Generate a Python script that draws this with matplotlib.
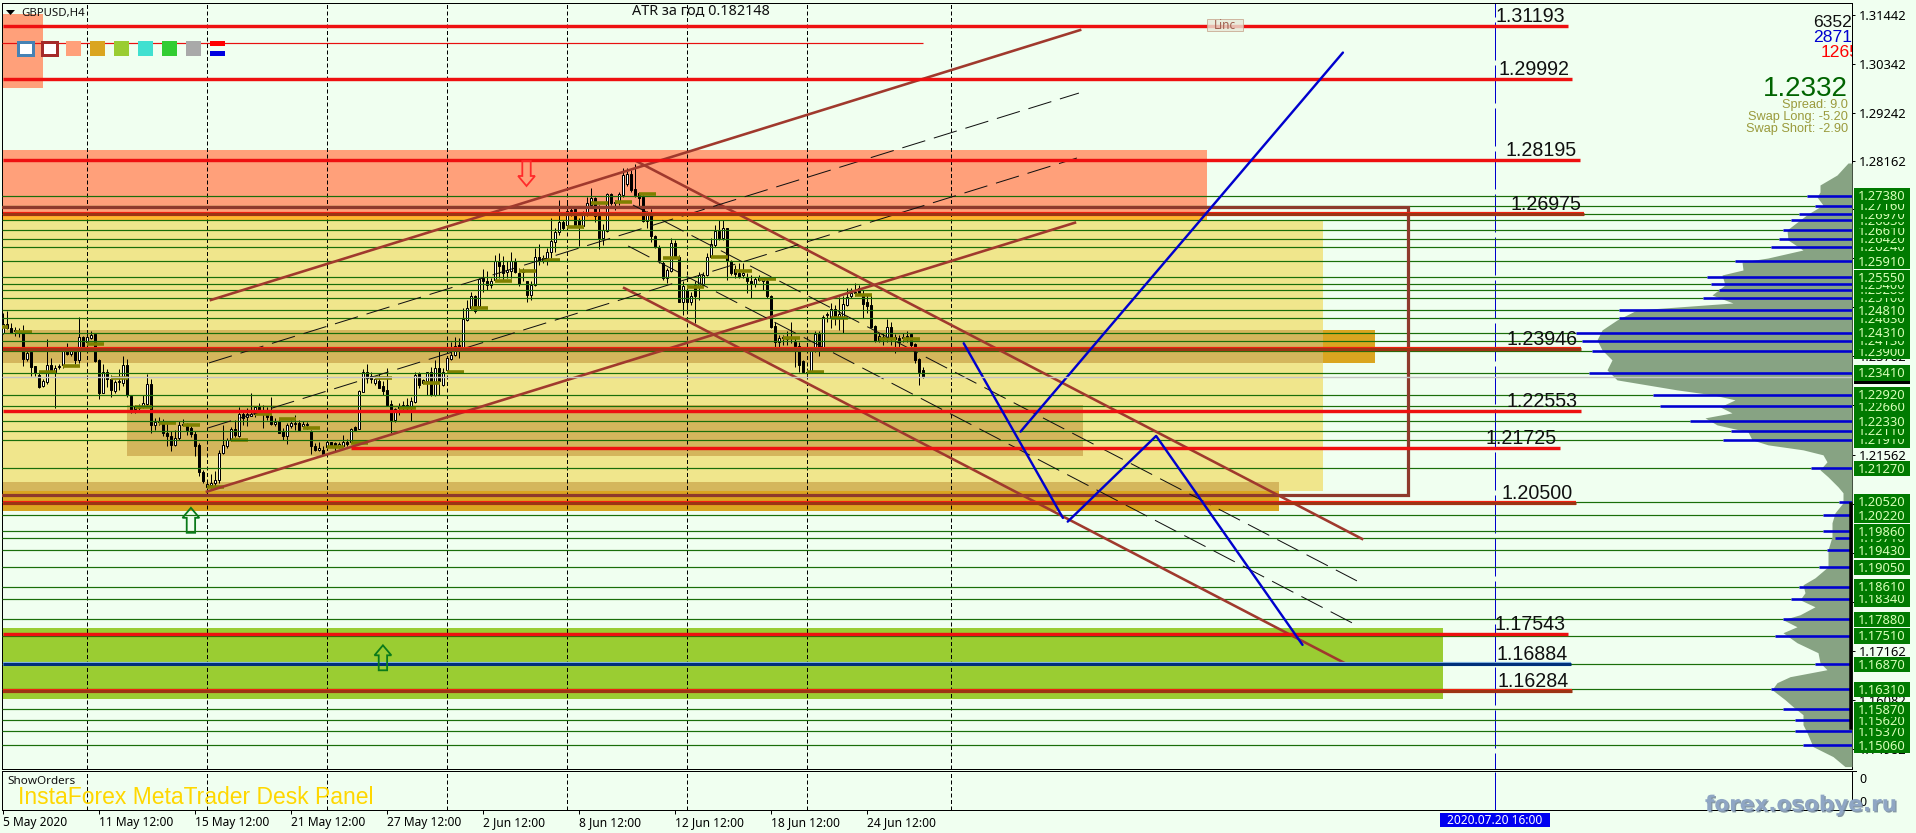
import matplotlib
matplotlib.use("Agg")
import matplotlib.pyplot as plt
import matplotlib.patheffects as pe
from matplotlib.patches import Rectangle, Polygon
import numpy as np

# candles, GBPUSD H4, in price points (1e-4)
opens = [12430,12451,12441,12434,12433,12430,12373,12387,12357,12337,
         12312,12321,12358,12342,12354,12359,12390,12384,12390,12369,
         12422,12411,12419,12428,12370,12297,12342,12327,12301,12320,
         12319,12359,12290,12259,12263,12266,12271,12316,12224,12231,
         12234,12207,12200,12180,12194,12224,12222,12217,12204,12180,
         12118,12086,12090,12094,12101,12162,12177,12192,12215,12200,
         12249,12242,12245,12249,12264,12255,12258,12245,12227,12232,
         12210,12200,12222,12227,12228,12222,12224,12210,12177,12168,
         12168,12174,12185,12183,12177,12177,12187,12187,12219,12215,
         12299,12344,12334,12318,12322,12312,12303,12271,12236,12262,
         12265,12265,12267,12275,12340,12319,12322,12342,12292,12351,
         12314,12348,12373,12381,12404,12395,12460,12486,12514,12490,
         12553,12547,12538,12550,12593,12583,12567,12570,12591,12566,
         12568,12546,12516,12538,12600,12594,12598,12613,12635,12656,
         12679,12673,12703,12708,12684,12670,12695,12718,12733,12693,
         12643,12660,12742,12721,12725,12741,12764,12787,12753,12744,
         12736,12682,12694,12648,12624,12587,12553,12570,12632,12602,
         12501,12527,12499,12538,12536,12538,12561,12602,12628,12660,
         12643,12665,12591,12573,12564,12561,12555,12548,12540,12549,
         12548,12548,12514,12446,12411,12419,12417,12419,12411,12402,
         12368,12340,12344,12389,12428,12399,12470,12466,12484,12467,
         12467,12493,12514,12520,12531,12514,12499,12493,12446,12415,
         12416,12419,12443,12416,12419,12419,12424,12428,12406,12372,12348]
highs = [12475,12480,12452,12443,12441,12448,12389,12389,12357,12345,
         12327,12416,12374,12359,12361,12392,12407,12398,12394,12466,
         12424,12430,12436,12430,12372,12361,12349,12336,12325,12350,
         12378,12372,12292,12269,12271,12292,12339,12327,12239,12242,
         12237,12228,12210,12212,12232,12237,12228,12221,12210,12183,
         12124,12097,12115,12122,12168,12224,12195,12220,12236,12265,
         12258,12262,12297,12267,12274,12269,12265,12288,12239,12239,
         12217,12228,12236,12247,12236,12232,12230,12212,12183,12185,
         12176,12187,12187,12185,12187,12202,12192,12217,12222,12303,
         12349,12361,12344,12334,12340,12322,12351,12280,12262,12273,
         12277,12284,12286,12342,12344,12327,12344,12355,12369,12389,
         12351,12378,12411,12422,12419,12486,12505,12523,12516,12553,
         12573,12570,12553,12605,12609,12603,12591,12613,12598,12576,
         12576,12548,12546,12620,12629,12605,12620,12688,12665,12729,
         12684,12729,12714,12710,12688,12703,12736,12755,12736,12718,
         12676,12745,12745,12729,12747,12800,12800,12795,12809,12747,
         12740,12703,12708,12650,12628,12591,12576,12643,12639,12605,
         12546,12538,12523,12546,12568,12568,12609,12643,12673,12684,
         12684,12667,12594,12583,12587,12587,12564,12561,12557,12561,
         12557,12553,12516,12456,12426,12426,12434,12456,12419,12411,
         12370,12351,12393,12434,12434,12471,12478,12497,12493,12512,
         12514,12531,12531,12542,12538,12527,12516,12516,12449,12430,
         12431,12461,12454,12428,12426,12430,12434,12431,12409,12374,12354]
lows = [12428,12439,12431,12424,12422,12357,12368,12333,12333,12308,
        12310,12316,12340,12263,12350,12351,12381,12378,12361,12363,
        12396,12407,12416,12366,12282,12295,12310,12286,12297,12303,
        12312,12288,12250,12250,12258,12262,12266,12207,12213,12224,
        12200,12178,12165,12176,12191,12221,12202,12198,12155,12110,
        12095,12073,12083,12086,12095,12159,12172,12189,12198,12198,
        12224,12222,12245,12243,12252,12217,12236,12224,12222,12206,
        12191,12182,12217,12213,12210,12218,12215,12159,12165,12165,
        12157,12174,12174,12165,12172,12174,12177,12183,12212,12215,
        12298,12319,12319,12314,12307,12292,12267,12206,12230,12247,
        12258,12254,12233,12273,12308,12316,12292,12289,12289,12292,
        12312,12344,12369,12378,12374,12393,12458,12482,12476,12488,
        12523,12527,12531,12546,12553,12548,12553,12553,12566,12535,
        12546,12499,12505,12536,12583,12587,12582,12598,12613,12650,
        12662,12669,12692,12669,12626,12667,12692,12714,12680,12618,
        12628,12658,12718,12706,12718,12736,12760,12747,12736,12714,
        12680,12667,12635,12620,12587,12550,12543,12568,12598,12501,
        12471,12482,12493,12452,12505,12534,12558,12598,12624,12639,
        12639,12549,12561,12553,12553,12553,12520,12508,12534,12546,
        12527,12508,12441,12400,12400,12404,12404,12408,12355,12344,
        12340,12337,12342,12387,12378,12396,12456,12441,12449,12437,
        12430,12490,12508,12514,12516,12464,12475,12441,12411,12411,
        12404,12411,12404,12385,12399,12411,12411,12400,12364,12313,12329]
closes = [12451,12441,12431,12437,12436,12372,12385,12355,12340,12310,
          12323,12358,12345,12353,12357,12390,12384,12390,12369,12421,
          12398,12421,12426,12368,12297,12342,12328,12303,12321,12323,
          12359,12292,12258,12266,12267,12273,12316,12224,12231,12234,
          12206,12200,12180,12194,12224,12227,12213,12204,12178,12118,
          12099,12092,12095,12101,12162,12179,12191,12215,12202,12249,
          12240,12249,12249,12264,12257,12258,12242,12227,12231,12207,
          12200,12224,12228,12228,12213,12227,12227,12177,12168,12172,
          12159,12185,12176,12176,12182,12187,12182,12215,12213,12301,
          12344,12329,12327,12327,12308,12301,12269,12236,12259,12267,
          12269,12269,12277,12337,12314,12324,12342,12292,12351,12322,
          12344,12374,12381,12402,12395,12462,12486,12514,12479,12552,
          12546,12538,12547,12593,12581,12566,12572,12591,12568,12541,
          12572,12516,12538,12600,12593,12598,12613,12637,12656,12679,
          12665,12703,12706,12673,12670,12695,12721,12733,12693,12643,
          12662,12742,12721,12725,12742,12785,12787,12751,12740,12733,
          12682,12694,12647,12624,12594,12553,12572,12632,12602,12501,
          12536,12499,12514,12514,12561,12561,12602,12629,12660,12643,
          12665,12591,12564,12563,12557,12564,12546,12540,12551,12553,
          12551,12514,12443,12411,12419,12422,12420,12422,12402,12359,
          12342,12344,12389,12428,12396,12467,12473,12484,12466,12473,
          12496,12511,12521,12523,12520,12496,12491,12445,12413,12424,
          12421,12443,12421,12422,12411,12422,12420,12404,12370,12344,12331]

# daily pivot marks (olive dashes)
pivot_bars = [-1,5,11,17,23,29,35,41,47,53,59,65,71,77,83,89,95,101,107,113,119,125,
              131,137,143,149,155,161,167,173,179,185,191,197,203,209,215,221,227]
pivot_prices = [1.24446,1.24334,1.23431,1.23572,1.24065,1.23303,1.22646,1.22287,1.22242,
                1.20859,1.21906,1.22489,1.22377,1.22175,1.21756,1.21846,1.23296,1.22623,
                1.23191,1.23431,1.24866,1.25471,1.25696,1.25949,1.26682,1.27220,1.27249,
                1.27422,1.25987,1.25337,1.26009,1.25696,1.25516,1.24200,1.23438,1.24648,
                1.25157,1.24171,1.24171]

# volume levels: price labels and blue bars on the right
level_prices = [1.27380,1.27160,1.26970,1.26830,1.26610,1.26420,1.26240,1.25910,1.25550,1.25400,
                1.25280,1.25100,1.24810,1.24630,1.24310,1.24130,1.23900,1.23410,1.22920,1.22660,
                1.22330,1.22110,1.21910,1.21270,1.20520,1.20220,1.19860,1.19710,1.19430,1.19050,
                1.18610,1.18340,1.17880,1.17510,1.16870,1.16310,1.15870,1.15620,1.15370,1.15060]
level_volumes = [45,37,53,61,69,73,81,117,145,141,133,149,233,233,276,270,260,263,199,192,
                 162,121,129,41,13,29,29,17,25,33,53,61,69,77,37,81,69,57,57,49]

# volume profile outline
profile_prices = [1.28117,1.27848,1.27624,1.27467,1.27355,1.27175,1.26973,1.26839,1.26615,1.26391,
                  1.26166,1.25987,1.25897,1.25718,1.25606,1.25382,1.25157,1.24978,1.24821,1.24597,
                  1.24373,1.24149,1.23925,1.23701,1.23477,1.23253,1.23029,1.22917,1.22805,1.22648,
                  1.22513,1.22401,1.22244,1.22087,1.21908,1.21796,1.21684,1.21572,1.21415,1.21236,
                  1.21079,1.20855,1.20721,1.20496,1.20272,1.20048,1.19734,1.19442,1.19061,1.18814,
                  1.18657,1.18478,1.18321,1.18164,1.17985,1.17873,1.17716,1.17582,1.17358,1.17134,
                  1.16910,1.16753,1.16596,1.16462,1.16305,1.16081,1.15924,1.15745,1.15521,1.15342,
                  1.15028,1.14804,1.14580]
profile_volumes = [4,15,32,32,35,29,44,52,65,64,49,84,110,109,130,127,140,119,215,235,
                   250,255,250,240,245,235,175,139,117,132,120,147,135,104,100,84,49,29,25,32,
                   24,14,9,9,17,20,20,24,24,37,49,47,52,37,52,69,55,69,55,34,
                   32,25,62,75,80,67,59,49,49,45,39,19,7]

# marked levels with their captions
line_prices = [1.31193,1.29992,1.28195,1.26975,1.23946,1.22553,1.21725,1.20500,1.17543,1.16884,1.16284]
line_labels = ['1.31193','1.29992','1.28195','1.26975','1.23946','1.22553','1.21725','1.20500','1.17543','1.16884','1.16284']
line_ends = [391.2,392.2,394.2,395.2,394.4,394.4,389.2,393.2,391.2,391.9,392.2]
line_starts = [0,0,0,0,0,0,86.9,0,0,0,0]
line_colors = ['r','r','r','b','b','r','r','b','r','n','b']

price_ticks = [1.31442,1.30342,1.29242,1.28162,1.27082,1.25982,1.24882,1.23782,
               1.22682,1.21562,1.20462,1.19362,1.18262,1.17162,1.16082,1.14982]
day_bars = [21,51,81,111,141,171,201,237]
time_bars = [0,24,48,72,96,120,144,168,192,216]
time_labels = ['5 May 2020','11 May 12:00','15 May 12:00','21 May 12:00','27 May 12:00',
               '2 Jun 12:00','8 Jun 12:00','12 Jun 12:00','18 Jun 12:00','24 Jun 12:00']
cursor_bar = 373
last_price = 1.2332

# channels and drawn paths (bar, price)
channel_up_high = ([51.9,269.2],[1.25045,1.31099])
channel_up_low = ([50.9,267.9],[1.20747,1.26778])
channel_down_high = ([158.2,339.7],[1.28162,1.19686])
channel_down_low = ([155.2,335.9],[1.25314,1.16875])
dash_up_a = ([51.4,268.9],[1.23633,1.29686])
dash_up_b = ([51.2,268.4],[1.22175,1.28229])
dash_down_a = ([157.4,338.4],[1.27175,1.18745])
dash_down_b = ([156.2,337.2],[1.26256,1.17803])
blue_path_1 = ([240.1,264.9],[1.24074,1.20157])
blue_path_2 = ([266.1,288.2,324.8],[1.20074,1.21996,1.17310])
blue_path_3 = ([254.3,334.9],[1.22092,1.30594])

W, H = 1916, 833
BG = '#F0FFF0'
SALMON = '#FFA07A'
KHAKI = '#F0E68C'
TAN = '#D4B65C'
GOLD = '#DAA520'
LEVEL_GREEN = '#1A6E0A'
BROWN = '#A0392D'
BLUE = '#0000CD'
PX = 0.72  # one pixel in points at dpi 100

plt.rcParams['font.family'] = ['Noto Sans', 'DejaVu Sans']
fig = plt.figure(figsize=(W/100, H/100), dpi=100, facecolor=BG)

top, bottom = 2.5, 768.5
ax = fig.add_axes([2/W, 1-bottom/H, 1850/W, (bottom-top)/H])
ax.set_facecolor(BG)
ax.set_xlim(-0.33, 462.17)
ax.set_ylim(1.14537, 1.31717)

ax_vp = ax.twiny()
ax_vp.set_xlim(1850, 0)
ax_vp.patch.set_visible(False)
ax_vp.set_zorder(ax.get_zorder()+1)
ax_vp.set_xticks([])
for s in ax_vp.spines.values():
    s.set_visible(False)

ax_low = fig.add_axes([2/W, 1-809.5/H, 1850/W, 38.5/H], sharex=ax)
ax_low.set_facecolor(BG)
ax_low.set_yticks([])

# zones
def zone(x0, x1, p0, p1, color):
    ax.add_patch(Rectangle((x0, p0), x1-x0, p1-p0, fc=color, ec='none', zorder=1))

x0 = -0.33
zone(x0, 9.9, 1.29798, 1.31458, SALMON)
zone(x0, 300.9, 1.26815, 1.28408, SALMON)
zone(x0, 329.9, 1.20761, 1.26815, KHAKI)
zone(x0, 300.9, 1.26815, 1.26927, '#FFB52E')
zone(x0, 329.9, 1.23621, 1.24372, TAN)
zone(329.9, 342.9, 1.23621, 1.24372, GOLD)
zone(30.9, 269.9, 1.21554, 1.22691, TAN)
zone(x0, 318.9, 1.20761, 1.20964, TAN)
zone(x0, 318.9, 1.20321, 1.20761, GOLD)
zone(x0, 359.9, 1.16106, 1.17691, '#9ACD32')

# box outline
ax.plot([x0, 351.2, 351.2, x0], [1.27130, 1.27130, 1.20666, 1.20666], color='#8E3A2C', lw=3.2*PX, zorder=6,
        solid_joinstyle='miter')

# separators
for a in (ax, ax_low):
    a.vlines(day_bars, 0, 2, colors='black', lw=PX, linestyles=(0, (4, 2.5)), zorder=2)
    a.vlines(cursor_bar, 0, 2, colors=BLUE, lw=PX, linestyles=(0, (38, 5)), zorder=2)

# candles
o = np.array(opens)/10000
h = np.array(highs)/10000
l = np.array(lows)/10000
c = np.array(closes)/10000
bars = np.arange(len(o))
ax.vlines(bars, l, h, colors='black', lw=PX, zorder=4)
up = c >= o
ax.bar(bars[up], (c-o)[up], bottom=o[up], width=0.5, fc='white', ec='black', lw=PX, zorder=4.5)
ax.bar(bars[~up], (o-c)[~up], bottom=c[~up], width=0.5, fc='black', ec='black', lw=PX, zorder=4.5)

pivot_bars = np.array(pivot_bars)
ax.hlines(pivot_prices, pivot_bars-2.2, pivot_bars+2.2, colors='#808000', lw=3.6*PX, zorder=5)

# channels
for line in (channel_up_high, channel_up_low, channel_down_high, channel_down_low):
    ax.plot(line[0], line[1], color=BROWN, lw=2.6*PX, zorder=6)
for line in (dash_up_a, dash_up_b, dash_down_a, dash_down_b):
    ax.plot(line[0], line[1], color='#101010', lw=PX, ls=(0, (24, 9)), zorder=6)

# level lines
level_ends = ax.get_xlim()[1] - np.array(level_volumes)/4
ax.hlines(level_prices, x0, level_ends, colors=LEVEL_GREEN, lw=1.2*PX, zorder=5.5)

ax.hlines(1.30800, x0, 229.9, colors='#E81010', lw=1.2*PX, zorder=6)
for p, lab, s, e, col in zip(line_prices, line_labels, line_starts, line_ends, line_colors):
    s = max(s, x0)
    if col == 'r':
        ax.hlines(p, s, e, colors='#EE1010', lw=3.4*PX, zorder=7)
    elif col == 'b':
        ax.hlines(p, s, e, colors='#F02010', lw=4.2*PX, zorder=7)
        ax.hlines(p, s, e, colors='#9C3414', lw=3*PX, zorder=7.1)
    else:
        ax.hlines(p, s, e, colors='#7FB0E0', lw=4.2*PX, zorder=7)
        ax.hlines(p, s, e, colors='#002F7A', lw=3*PX, zorder=7.1)
    ax.annotate(lab, (e, p), xytext=(-3*PX, 4*PX), textcoords='offset points', ha='right', va='baseline',
                fontsize=14.1, family='Liberation Sans', color='#101010', zorder=9)

# drawn forecast paths
for path in (blue_path_1, blue_path_2, blue_path_3):
    ax.plot(path[0], path[1], color=BLUE, lw=2.4*PX, zorder=8, solid_capstyle='round')

# arrows
def arrow(bar, tip, direction, color):
    # direction +1 points up; sizes in bars and price units
    hw, sw, hh, ln = 2.1, 1.05, 10/4460, 25/4460
    pts = [(bar, tip), (bar+hw, tip-direction*hh), (bar+sw, tip-direction*hh), (bar+sw, tip-direction*ln),
           (bar-sw, tip-direction*ln), (bar-sw, tip-direction*hh), (bar-hw, tip-direction*hh)]
    ax.add_patch(Polygon(pts, closed=True, fc='none', ec=color, lw=1.8*PX, zorder=8))

arrow(130.8, 1.27602, -1, '#FF2A2A')
arrow(46.9, 1.20384, 1, '#0A7A1A')
arrow(94.9, 1.17300, 1, '#0A7A1A')

# right price scale
ax.yaxis.tick_right()
ax.set_yticks(price_ticks)
ax.set_yticklabels(['%.5f' % t for t in price_ticks])
ax.tick_params(axis='y', length=3*PX, width=PX, pad=3, labelsize=9.3, colors='black')
ax.tick_params(axis='x', which='both', bottom=False, labelbottom=False)
for s in ax.spines.values():
    s.set_linewidth(PX)
    s.set_color('black')

# volume profile
ax_vp.fill_betweenx(profile_prices, 0, profile_volumes, color='#87A383', lw=0, zorder=1)
ax_vp.hlines(last_price, 1850, 0, colors='#C4C4C4', lw=1.4*PX, zorder=2)
ax_vp.hlines(level_prices, 0, level_volumes, colors='#0000D0', lw=2.6*PX, zorder=3)

# current price tag, mostly hidden by the level labels
ax_vp.add_patch(Rectangle((-2, last_price-7/4460), -56, 14/4460, fc='black', ec='none', clip_on=False, zorder=4))

# green level labels, upper ones cover the lower ones
for n, p in enumerate(sorted(level_prices)):
    z = 5 + n*0.01
    ax_vp.add_patch(Rectangle((-2, p-8/4460), -56, 15.5/4460, fc='#007A00', ec='none', clip_on=False, zorder=z))
    ax_vp.text(-30, p-1/4460, '%.5f' % p, ha='center', va='center', fontsize=9.3, color='#D8FFB8',
               clip_on=False, zorder=z+0.001)

# lower panel and time axis
ax_low.set_xticks(time_bars)
ax_low.set_xticklabels(time_labels, ha='left', fontsize=8.6)
ax_low.tick_params(axis='x', length=4*PX, width=PX, pad=2)
ax_low.set_ylim(0, 1)
for s in ax_low.spines.values():
    s.set_linewidth(PX)
ax_low.text(462.17+1.75, 0.79, '0', fontsize=9, va='center', clip_on=False)
ax_low.text(462.17+1.75, 0.19, '0', fontsize=9, va='center', clip_on=False)
ax_low.plot([462.17, 463.1], [1, 1], color='black', lw=PX, clip_on=False)

# terminal overlay, in screen pixels
ui = fig.add_axes([0, 0, 1, 1], zorder=10)
ui.set_xlim(0, W)
ui.set_ylim(H, 0)
ui.axis('off')
ui.patch.set_visible(False)

ui.add_patch(Rectangle((18, 42), 15, 13, fc='white', ec='#4682B4', lw=3*PX))
ui.add_patch(Rectangle((42, 42), 15, 13, fc='white', ec='#A52A2A', lw=3*PX))
swatch_colors = ['#FFA07A', GOLD, '#9ACD32', '#40E0D0', '#32CD32', '#A9A9A9']
for n, col in enumerate(swatch_colors):
    ui.add_patch(Rectangle((66+24*n, 41), 15, 15, fc=col, ec='none'))
ui.add_patch(Rectangle((210, 41), 15, 5, fc='#FF0000', ec='none'))
ui.add_patch(Rectangle((210, 51), 15, 5, fc='#0000E0', ec='none'))
ui.add_patch(Polygon([(6, 10), (15, 10), (10.5, 15)], fc='black', ec='none'))
ui.text(21, 13, 'GBPUSD,H4', fontsize=8.2, va='center', ha='left', color='#101010')
ui.text(632, 11, 'ATR за год 0.182148', fontsize=10.4, va='center', ha='left', color='#101010')
ui.add_patch(Rectangle((1207, 19), 36, 12, fc='#E8E8D8', ec='#C8A890', lw=PX, alpha=0.8))
ui.text(1225, 25, 'Linc', fontsize=8.5, va='center', ha='center', color='#A06050')

big = dict(family='Liberation Sans', va='center')
ui.text(1852, 22, '6352', fontsize=12.6, ha='right', color='#101010', **big)
ui.text(1852, 37, '2871', fontsize=12.6, ha='right', color='#0000D0', **big)
t = ui.text(1821, 52, '1265', fontsize=12.6, ha='left', color='#FF0000', **big)
t.set_clip_path(Rectangle((1700, 0), 152, 100, transform=ui.transData))
t.set_clip_on(True)
ui.text(1848, 89, '1.2332', fontsize=20, ha='right', color='#006400', **big)
for txt, y in zip(['Spread: 9.0', 'Swap Long: -5.20', 'Swap Short: -2.90'], [105, 117, 129]):
    ui.text(1848, y, txt, fontsize=9.2, ha='right', color='#9A9A3C', **big)

ui.text(7, 781.5, 'ShowOrders', fontsize=8.4, va='center', color='#101010')
ui.text(18, 798, 'InstaForex MetaTrader Desk Panel', fontsize=16.5, va='center', family='Liberation Sans',
        color='#FFD700')

# double line over the lower panel, thick stretch of the scale
ui.plot([2, 1852], [770.5, 770.5], color='black', lw=PX)
ui.plot([1851.5, 1851.5], [504, 728], color='black', lw=3.5*PX)

ui.add_patch(Rectangle((1440, 813), 110, 14, fc='#0000F0', ec='none'))
ui.text(1495, 820, '2020.07.20 16:00', fontsize=8.6, color='white', va='center', ha='center')

ui.text(1801, 805, 'forex.osobye.ru', fontsize=15.5, family='DejaVu Sans', weight='bold', va='center', ha='center',
        color='#8FA6C4', path_effects=[pe.withSimplePatchShadow(offset=(1, -1), shadow_rgbFace='#5A6E88', alpha=0.7)])

fig.savefig('out.png', dpi=100, facecolor=BG)
